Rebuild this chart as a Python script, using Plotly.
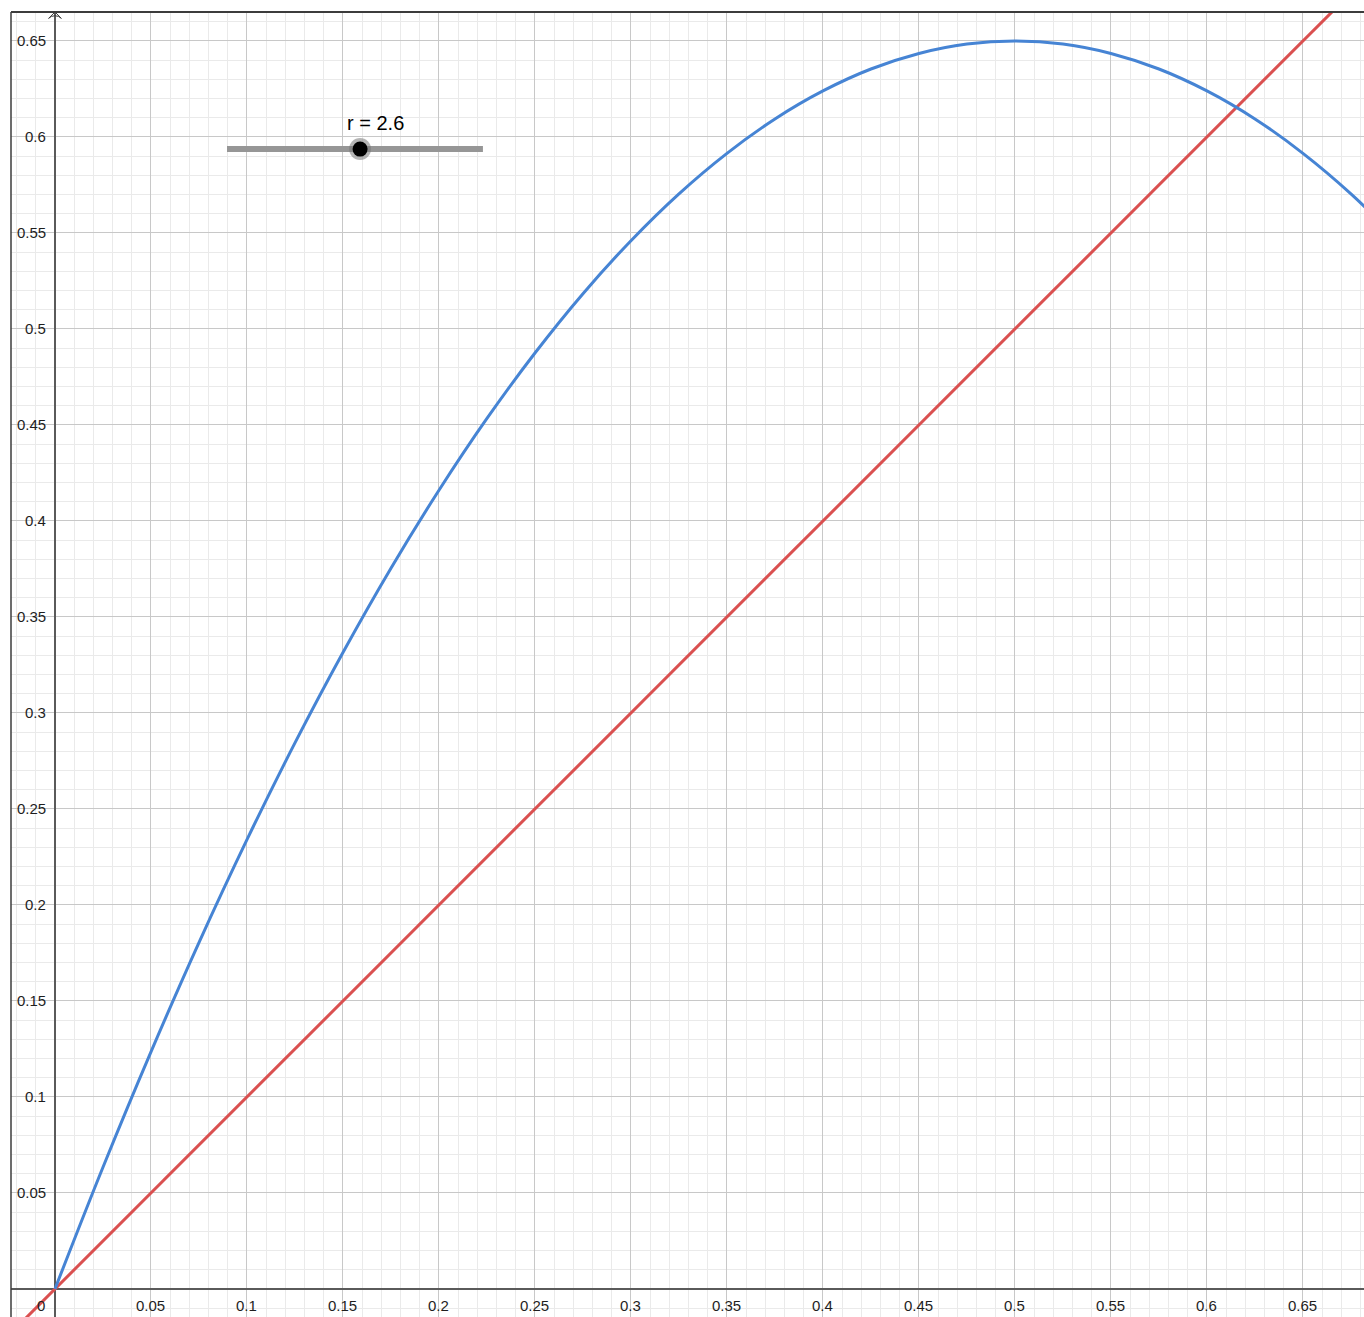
import plotly.graph_objects as go

# ---- data ----
r_value = 2.6
slider_min, slider_max = 0.0, 5.0

curve_x = [0.0, 0.025, 0.05, 0.075, 0.1, 0.125, 0.15, 0.175, 0.2, 0.225, 0.25, 0.275,
           0.3, 0.325, 0.35, 0.375, 0.4, 0.425, 0.45, 0.475, 0.5, 0.525, 0.55, 0.575,
           0.6, 0.625, 0.65, 0.675, 0.7]
curve_y = [0.0, 0.0634, 0.1235, 0.1804, 0.234, 0.2844, 0.3315, 0.3754, 0.416, 0.4534,
           0.4875, 0.5184, 0.546, 0.5704, 0.5915, 0.6094, 0.624, 0.6354, 0.6435, 0.6484,
           0.65, 0.6484, 0.6435, 0.6354, 0.624, 0.6094, 0.5915, 0.5704, 0.546]

line_x = [-0.03, 0.7]
line_y = [-0.03, 0.7]

x_ticks = [0.05, 0.1, 0.15, 0.2, 0.25, 0.3, 0.35, 0.4, 0.45, 0.5, 0.55, 0.6, 0.65]
x_tick_labels = ["0.05", "0.1", "0.15", "0.2", "0.25", "0.3", "0.35", "0.4", "0.45",
                 "0.5", "0.55", "0.6", "0.65"]
y_ticks = [0.05, 0.1, 0.15, 0.2, 0.25, 0.3, 0.35, 0.4, 0.45, 0.5, 0.55, 0.6, 0.65]
y_tick_labels = ["0.05", "0.1", "0.15", "0.2", "0.25", "0.3", "0.35", "0.4", "0.45",
                 "0.5", "0.55", "0.6", "0.65"]

# slider placement (data units of the view)
slider_x0, slider_x1, slider_y = 0.0896, 0.2229, 0.5937

X_RANGE = [-0.0229, 0.6818]
Y_RANGE = [-0.0146, 0.6651]

BLUE = "rgb(70,132,212)"
RED = "rgb(218,80,80)"
FONT = "Liberation Sans, Arial, sans-serif"
TICK_FONT = dict(family=FONT, size=15, color="rgb(30,30,30)")

fig = go.Figure()

fig.add_trace(go.Scatter(x=line_x, y=line_y, mode="lines",
                         line=dict(color=RED, width=3), hoverinfo="skip"))
fig.add_trace(go.Scatter(x=curve_x, y=curve_y, mode="lines", line_shape="spline",
                         line=dict(color=BLUE, width=3), hoverinfo="skip"))

# slider
knob_x = slider_x0 + (r_value - slider_min) / (slider_max - slider_min) * (slider_x1 - slider_x0)
fig.add_trace(go.Scatter(x=[slider_x0, slider_x1], y=[slider_y, slider_y], mode="lines",
                         line=dict(color="rgb(150,150,150)", width=6), hoverinfo="skip"))
fig.add_trace(go.Scatter(x=[knob_x], y=[slider_y], mode="markers",
                         marker=dict(size=22, color="rgba(120,120,120,0.55)"), hoverinfo="skip"))
fig.add_trace(go.Scatter(x=[knob_x], y=[slider_y], mode="markers",
                         marker=dict(size=15, color="black"), hoverinfo="skip"))
fig.add_annotation(x=knob_x, y=slider_y, xshift=15, yshift=26, text=f"r = {r_value}",
                   showarrow=False, font=dict(family=FONT, size=20, color="black"))

# y-axis arrow
fig.add_trace(go.Scatter(x=[0], y=[Y_RANGE[1]], mode="markers", cliponaxis=False,
                         marker=dict(symbol="arrow-wide-open", size=9, color="rgb(60,60,60)",
                                     line=dict(width=1, color="rgb(60,60,60)")),
                         hoverinfo="skip"))

# tick labels
for xv, lab in zip(x_ticks, x_tick_labels):
    fig.add_annotation(x=xv, y=0, text=lab, showarrow=False, yanchor="top", yshift=-6,
                       font=TICK_FONT)
for yv, lab in zip(y_ticks, y_tick_labels):
    fig.add_annotation(x=0, y=yv, text=lab, showarrow=False, xanchor="right", xshift=-7,
                       font=TICK_FONT)
fig.add_annotation(x=0, y=0, text="0", showarrow=False, xanchor="right", yanchor="top",
                   xshift=-8, yshift=-6, font=TICK_FONT)

axis_common = dict(showticklabels=False, ticks="", dtick=0.05, tick0=0,
                   gridcolor="rgb(200,200,200)", gridwidth=1,
                   minor=dict(dtick=0.01, tick0=0, showgrid=True,
                              gridcolor="rgb(234,234,234)", gridwidth=1),
                   zeroline=True, zerolinecolor="rgb(90,90,90)", zerolinewidth=1.5,
                   showline=False, fixedrange=True)

fig.update_layout(
    width=1364, height=1317,
    margin=dict(l=11, r=0, t=12, b=0),
    paper_bgcolor="white", plot_bgcolor="white",
    showlegend=False,
    xaxis=dict(range=X_RANGE, **axis_common),
    yaxis=dict(range=Y_RANGE, **axis_common),
    shapes=[
        dict(type="line", xref="paper", yref="paper", x0=0, x1=1, y0=1, y1=1,
             line=dict(color="rgb(60,60,60)", width=2)),
        dict(type="line", xref="paper", yref="paper", x0=0, x1=0, y0=0, y1=1,
             line=dict(color="rgb(60,60,60)", width=1.5)),
    ],
)

fig.write_html("out.html", config={"displayModeBar": False},
               post_script="document.body.style.margin='0';document.body.style.overflow='hidden';")
